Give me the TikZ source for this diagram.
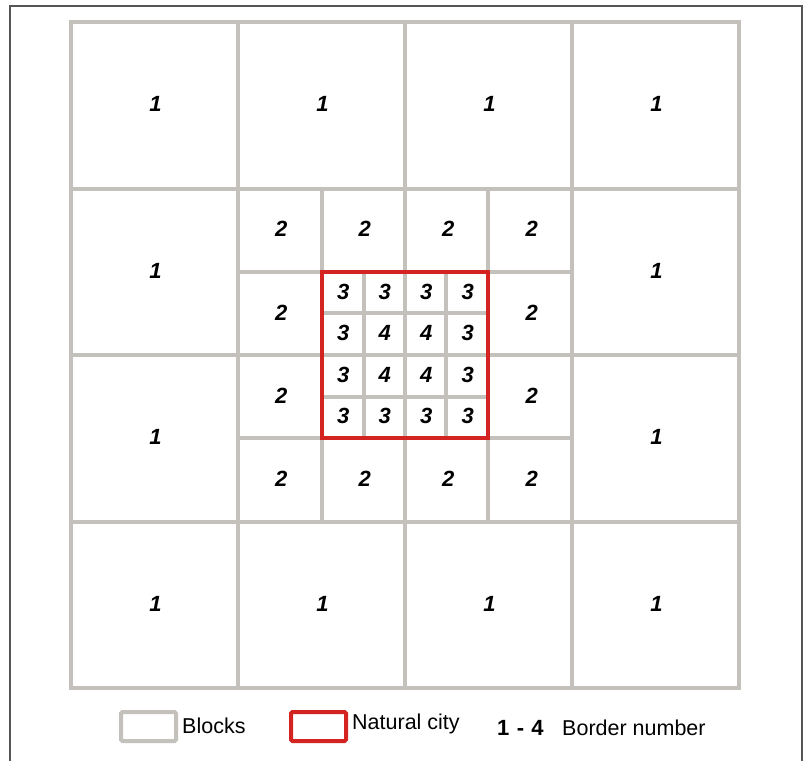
\documentclass[tikz,border=0pt]{standalone}
\usepackage{fontspec}
\setmainfont{Liberation Sans}
\definecolor{blockgray}{HTML}{C4C1BD}
\definecolor{cityred}{HTML}{D42422}
\definecolor{framegray}{HTML}{555555}
\begin{document}
\begin{tikzpicture}[x=1pt,y=-1pt,
  blk/.style={draw=blockgray, line width=4pt, line cap=rect},
  city/.style={draw=cityred, line width=4pt},
  num/.style={font=\fontsize{22}{22}\selectfont\bfseries\itshape, inner sep=0pt},
  legtext/.style={font=\fontsize{21.5}{22}\selectfont, inner sep=0pt, anchor=west},
  legbox/.style={line width=4pt, rounded corners=1.5pt}]
\useasboundingbox (0,0) rectangle (806,761);
% outer frame
\draw[framegray, line width=1.3pt] (10,761) -- (10,6) -- (802,6) -- (802,761);
% level 1 grid
\foreach \i in {0,...,4} {
  \draw[blk] ({71+167*\i},22) -- ({71+167*\i},688);
  \draw[blk] (71,{22+166.5*\i}) -- (739,{22+166.5*\i});
}
% level 2 grid
\foreach \v in {322,488} \draw[blk] (\v,188.5) -- (\v,521.5);
\foreach \h in {271.75,438.25} \draw[blk] (238,\h) -- (572,\h);
% level 3 grid
\foreach \v in {363.75,446.25} \draw[blk] (\v,271.75) -- (\v,438.25);
\foreach \h in {313.4,396.6} \draw[blk] (322,\h) -- (488,\h);
% natural city
\draw[city] (322,271.75) rectangle (488,438.25);
% labels level 1
\foreach \i in {0,...,3} \foreach \j in {0,...,3} {
  \pgfmathtruncatemacro{\inner}{(\i==1 || \i==2) && (\j==1 || \j==2) ? 1 : 0}
  \ifnum\inner=0
    \node[num] (one-\i-\j) at ({71+167*(\i+0.5)+1},{22+166.5*(\j+0.5)-1}) {1};
  \fi
}
% labels level 2
\foreach \a in {0,...,3} \foreach \b in {0,...,3} {
  \pgfmathtruncatemacro{\inner}{(\a==1 || \a==2) && (\b==1 || \b==2) ? 1 : 0}
  \ifnum\inner=0
    \node[num] (two-\a-\b) at ({238+83.5*(\a+0.5)+1.5},{188.5+83.25*(\b+0.5)-1}) {2};
  \fi
}
% labels level 3 / 4
\foreach \a in {0,...,3} \foreach \b in {0,...,3} {
  \pgfmathtruncatemacro{\inner}{(\a==1 || \a==2) && (\b==1 || \b==2) ? 4 : 3}
  \node[num] (three-\a-\b) at ({322+41.5*(\a+0.5)+0.5},{271.75+41.6*(\b+0.5)-1}) {\inner};
}
% legend
\draw[legbox, blockgray] (121,712) rectangle (176,741);
\node[legtext] (lblocks) at (182,726) {Blocks};
\draw[legbox, cityred] (291,712) rectangle (346,741);
\node[legtext] (lcity) at (352,724) {Natural city};
\node[legtext, font=\fontsize{22}{22}\selectfont\bfseries] (lnum) at (497,728) {1\,\,-\,\,4};
\node[legtext] (lborder) at (562,728) {Border number};
\end{tikzpicture}
\end{document}
